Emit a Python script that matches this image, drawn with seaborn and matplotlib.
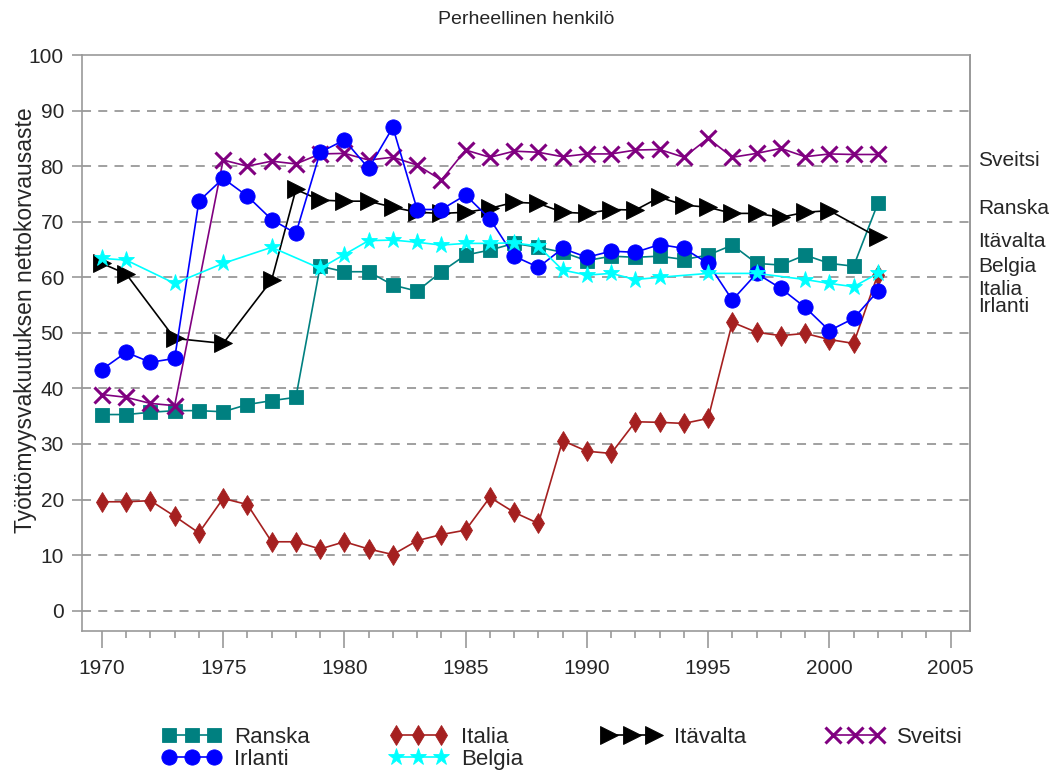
import numpy as np
import pandas as pd
import matplotlib
matplotlib.use("Agg")
import matplotlib.pyplot as plt
from matplotlib.ticker import MultipleLocator
import seaborn as sns

years = list(range(1970, 2003))
nan = np.nan

ranska = [35.3, 35.3, 35.7, 36.0, 36.0, 35.8, 37.1, 37.8, 38.4, 62.0, 61.0, 61.0,
          58.6, 57.5, 61.0, 64.0, 64.9, 66.1, 65.4, 64.5, 63.0, 63.8, 63.6, 63.8,
          63.2, 64.0, 65.8, 62.5, 62.2, 64.0, 62.5, 62.0, 73.3]
italia = [19.6, 19.6, 19.8, 17.0, 14.0, 20.2, 19.1, 12.4, 12.4, 11.1, 12.4, 11.1,
          10.1, 12.6, 13.7, 14.5, 20.4, 17.7, 15.7, 30.6, 28.7, 28.3, 34.0, 33.9,
          33.7, 34.6, 51.9, 50.1, 49.5, 49.9, 48.8, 48.1, 60.5]
itavalta = [62.5, 60.6, nan, 49.0, nan, 48.1, nan, 59.5, 75.8, 73.9, 73.7, 73.7,
            72.6, 71.7, 71.5, 71.7, 72.4, 73.5, 73.3, 71.7, 71.5, 72.2, 72.1, 74.4,
            73.0, 72.6, 71.5, 71.5, 70.8, 71.7, 72.0, nan, 67.2]
sveitsi = [38.9, 38.4, 37.3, 36.9, nan, 81.1, 80.0, 80.9, 80.4, 82.2, 82.3, 81.1,
           81.6, 80.2, 77.5, 82.9, 81.6, 82.7, 82.5, 81.7, 82.2, 82.2, 82.9, 83.0,
           81.6, 85.0, 81.6, 82.3, 83.2, 81.7, 82.2, 82.1, 82.1]
irlanti = [43.4, 46.5, 44.7, 45.4, 73.7, 77.8, 74.6, 70.4, 67.9, 82.5, 84.7, 79.6,
           87.0, 72.2, 72.2, 74.8, 70.5, 63.8, 61.8, 65.2, 63.6, 64.7, 64.5, 65.9,
           65.2, 62.5, 55.9, 60.7, 58.0, 54.6, 50.4, 52.6, 57.5]
belgia = [63.4, 63.1, nan, 58.9, nan, 62.5, nan, 65.4, nan, 61.6, 64.1, 66.6,
          66.7, 66.3, 65.8, 66.1, 66.1, 66.2, 65.6, 61.3, 60.4, 60.7, 59.6, 60.0,
          nan, 60.7, nan, 60.7, nan, 59.6, 58.9, 58.3, 60.7]

names = ["Ranska", "Italia", "Itävalta", "Sveitsi", "Irlanti", "Belgia"]
values = [ranska, italia, itavalta, sveitsi, irlanti, belgia]
colors = {"Ranska": "#008080", "Italia": "#A52020", "Itävalta": "#000000",
          "Sveitsi": "#800080", "Irlanti": "#0000FF", "Belgia": "#00FFFF"}
markers = {"Ranska": "s", "Italia": "d", "Itävalta": ">", "Sveitsi": "x",
           "Irlanti": "o", "Belgia": "*"}
msizes = {"Ranska": 9.5, "Italia": 10.5, "Itävalta": 12.5, "Sveitsi": 11,
          "Irlanti": 11, "Belgia": 12.5}

right_labels = ["Sveitsi", "Ranska", "Itävalta", "Belgia", "Italia", "Irlanti"]
right_label_y = [81.0, 72.3, 66.4, 61.9, 57.8, 54.7]

sns.set_style("white")
plt.rcParams["font.family"] = ["Liberation Sans", "DejaVu Sans"]

fig = plt.figure(figsize=(10.57, 7.74), dpi=100)
ax = fig.add_axes([0.0776, 0.1848, 0.8401, 0.7441])

for name, vals in zip(names, values):
    df = pd.DataFrame({"Vuosi": years, "Arvo": vals}).dropna()
    c = colors[name]
    mew = 2.2 if name == "Sveitsi" else 0.6
    sns.lineplot(data=df, x="Vuosi", y="Arvo", ax=ax, color=c, linewidth=1.2,
                 marker=markers[name], markersize=msizes[name],
                 markeredgecolor=c, markeredgewidth=mew, label=name,
                 estimator=None, sort=False, legend=False)

ax.set_xlim(1969.18, 2005.8)
ax.set_ylim(-3.65, 100)
ax.set_yticks(range(0, 101, 10))
ax.set_xticks(range(1970, 2006, 5))
ax.xaxis.set_minor_locator(MultipleLocator(1))
ax.grid(False)
for yv in range(0, 100, 10):
    ax.axhline(yv, color="#999999", linestyle=(0, (5, 4)), linewidth=1.3, zorder=0)

for side in ["left", "bottom", "top", "right"]:
    ax.spines[side].set_color("#999999")
    ax.spines[side].set_linewidth(1.2)
ax.spines["right"].set_color("#888888")

ax.tick_params(axis="y", which="major", direction="out", length=7, width=1.2,
               color="#999999", labelsize=15, pad=6, left=True)
ax.tick_params(axis="x", which="major", direction="out", length=12, width=1.2,
               color="#999999", labelsize=15, pad=8, bottom=True)
ax.tick_params(axis="x", which="minor", direction="out", length=5, width=1.2,
               color="#999999", bottom=True)

ax.set_xlabel("")
ax.set_ylabel("Työttömyysvakuutuksen nettokorvausaste", fontsize=16.5)
ax.yaxis.set_label_coords(-0.051, 0.54)
ax.set_title("Perheellinen henkilö", fontsize=14, pad=22)

trans = matplotlib.transforms.blended_transform_factory(ax.transAxes, ax.transData)
for lab, yv in zip(right_labels, right_label_y):
    ax.text(1.009, yv, lab, transform=trans, fontsize=15, va="center", ha="left")

handles, labels = ax.get_legend_handles_labels()
order = ["Ranska", "Irlanti", "Italia", "Belgia", "Itävalta", "Sveitsi"]
hmap = dict(zip(labels, handles))
leg = fig.legend([hmap[n] for n in order], order, loc="lower left",
                 bbox_to_anchor=(0.135, -0.021), ncol=4, frameon=False, fontsize=16,
                 numpoints=3, handlelength=2.6, columnspacing=3.6,
                 labelspacing=0.05, handletextpad=0.6)

fig.savefig("out.png", dpi=100)
